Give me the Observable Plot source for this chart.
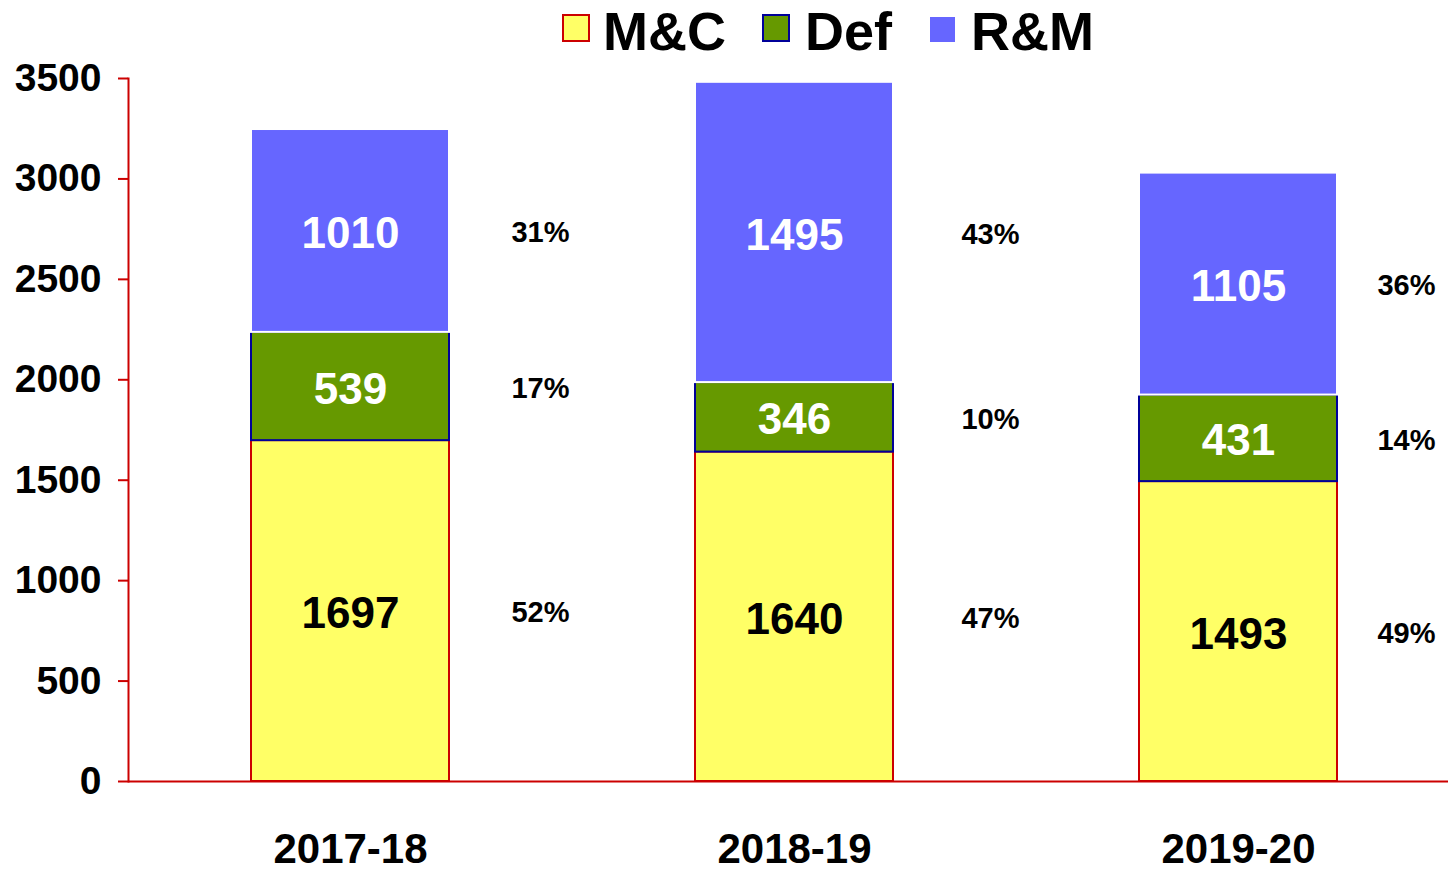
<!DOCTYPE html>
<html>
<head>
<meta charset="utf-8">
<script src="https://cdn.jsdelivr.net/npm/d3@7"></script>
<script src="https://cdn.jsdelivr.net/npm/@observablehq/plot@0.6"></script>
<style>
  body { margin: 0; background: #fff; font-family: "Liberation Sans", Arial, Helvetica, sans-serif; }
  #wrap { position: relative; width: 1448px; height: 871px; overflow: hidden; }
  #chart { position: absolute; left: 0; top: 0; }
  .sw { position: absolute; box-sizing: border-box; }
  .lt { position: absolute; font-size: 54px; font-weight: bold; line-height: 54px; color: #000; white-space: nowrap; }
</style>
</head>
<body>
<div id="wrap">
  <div id="chart"></div>
  <div class="sw" style="left:562px;top:14px;width:28px;height:28px;background:#FFFF66;border:2px solid #CC0000;"></div>
  <div class="lt" style="left:603px;top:4px;">M&amp;C</div>
  <div class="sw" style="left:762px;top:14px;width:28px;height:28px;background:#669900;border:2px solid #000099;"></div>
  <div class="lt" style="left:805px;top:4px;">Def</div>
  <div class="sw" style="left:930px;top:17px;width:25px;height:25px;background:#6666FF;"></div>
  <div class="lt" style="left:971px;top:4px;">R&amp;M</div>
</div>
<script>
// ---- data ----
const years = ["2017-18", "2018-19", "2019-20"];
const series = ["M&C", "Def", "R&M"];
const valuesMC = [1697, 1640, 1493];
const valuesDef = [539, 346, 431];
const valuesRM = [1010, 1495, 1105];
const pctMC = [52, 47, 49];
const pctDef = [17, 10, 14];
const pctRM = [31, 43, 36];
const yTicks = [0, 500, 1000, 1500, 2000, 2500, 3000, 3500];

// ---- styles ----
const fills = {"M&C": "#FFFF66", "Def": "#669900", "R&M": "#6666FF"};
const strokes = {"M&C": "#CC0000", "Def": "#000099", "R&M": "#FFFFFF"};
const labelColors = {"M&C": "#000000", "Def": "#FFFFFF", "R&M": "#FFFFFF"};
const pctDx = [190, 196, 168];

const table = [];
years.forEach((year, i) => {
  table.push({year, series: "M&C", value: valuesMC[i], pct: pctMC[i]});
  table.push({year, series: "Def", value: valuesDef[i], pct: pctDef[i]});
  table.push({year, series: "R&M", value: valuesRM[i], pct: pctRM[i]});
});

const font = "'Liberation Sans', Arial, Helvetica, sans-serif";

const pctMarks = years.map((year, i) =>
  Plot.text(table.filter(d => d.year === year), Plot.stackY({
    x: "year", y: "value", z: "series",
    text: d => d.pct + "%",
    dx: pctDx[i], dy: 2,
    fill: "#000000", fontSize: 29, fontWeight: "bold", fontFamily: font
  }))
);

const chart = Plot.plot({
  width: 1448,
  height: 871,
  marginLeft: 128,
  marginRight: 0,
  marginTop: 78,
  marginBottom: 90,
  style: {fontFamily: font, background: "#fff", overflow: "hidden"},
  x: {domain: years, range: [128, 1460], paddingInner: 0.554, paddingOuter: 0.277, label: null},
  y: {domain: [0, 3500], label: null},
  color: {type: "identity"},
  marks: [
    Plot.barY(table, Plot.stackY({
      x: "year", y: "value", z: "series",
      fill: d => fills[d.series],
      stroke: d => strokes[d.series],
      strokeWidth: 2
    })),
    Plot.text(table, Plot.stackY({
      x: "year", y: "value", z: "series",
      text: d => String(d.value),
      fill: d => labelColors[d.series],
      dy: 3,
      fontSize: 44, fontWeight: "bold", fontFamily: font
    })),
    ...pctMarks,
    Plot.frame({anchor: "left", stroke: "#CC0000", strokeWidth: 2}),
    Plot.ruleY([0], {stroke: "#CC0000", strokeWidth: 2}),
    Plot.axisY({
      ticks: yTicks, tickSize: 10, tickPadding: 17,
      stroke: "#CC0000", strokeWidth: 2, fill: "#000000",
      fontSize: 39, fontWeight: "bold", label: null, tickFormat: d => String(d)
    }),
    Plot.axisX({
      tickSize: 0, tickPadding: 52, fill: "#000000",
      fontSize: 42, fontWeight: "bold", label: null
    })
  ]
});
document.getElementById("chart").appendChild(chart);
</script>
</body>
</html>
